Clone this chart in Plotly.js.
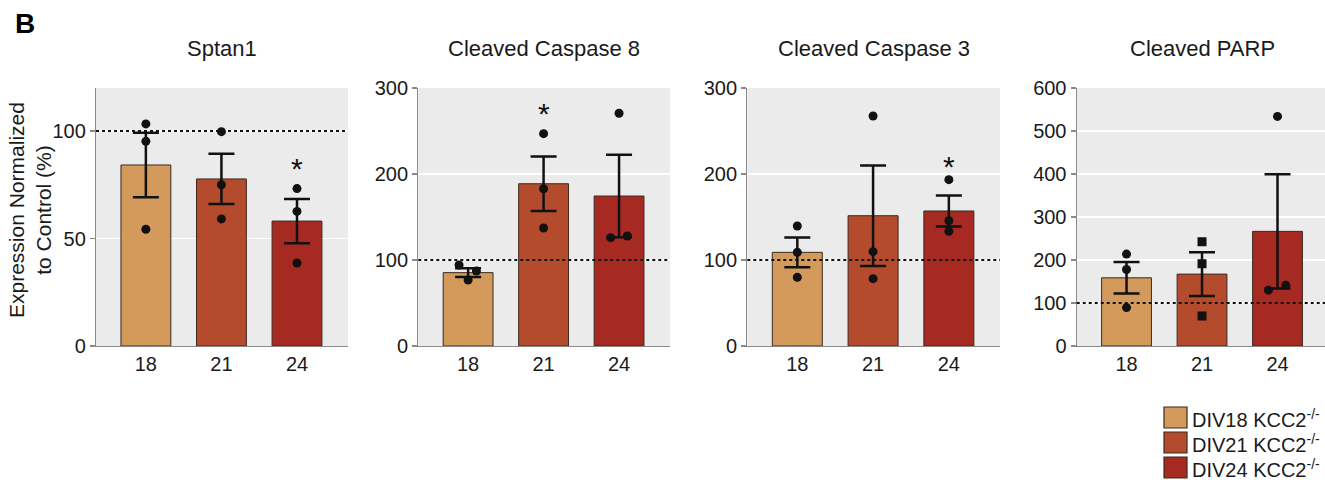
<!DOCTYPE html>
<html>
<head>
<meta charset="utf-8">
<script src="https://cdn.plot.ly/plotly-3.0.1.min.js"></script>
<style>
html,body{margin:0;padding:0;background:#fff;overflow:hidden;}
#chart{width:1325px;height:480px;}
</style>
</head>
<body>
<div id="chart"></div>
<script>
// ---- data ----
const categories = ['18', '21', '24'];
const legendLabels = ['DIV18 KCC2<sup>-/-</sup>', 'DIV21 KCC2<sup>-/-</sup>', 'DIV24 KCC2<sup>-/-</sup>'];
const panelTitles = ['Sptan1', 'Cleaved Caspase 8', 'Cleaved Caspase 3', 'Cleaved PARP'];

const sptan1Mean = [84.2, 77.7, 58.1];
const sptan1Sem = [15.0, 11.7, 10.3];
const sptan1Points = [[103.3, 95.2, 54.3], [99.7, 75.0, 59.1], [73.2, 62.6, 38.6]];
const sptan1Jitter = [[0, 0, 0], [0, 0, 0], [0, 0, 0]];

const casp8Mean = [85.3, 188.7, 174.4];
const casp8Sem = [5.2, 31.7, 48.0];
const casp8Points = [[94.2, 87.2, 76.7], [246.9, 182.9, 137.2], [270.6, 126.0, 127.9]];
const casp8Jitter = [[-0.12, 0.11, 0], [0, 0, 0], [0, -0.11, 0.11]];

const casp3Mean = [108.9, 151.5, 157.0];
const casp3Sem = [17.3, 58.5, 18.0];
const casp3Points = [[139.5, 108.9, 79.8], [267.4, 109.7, 78.3], [193.4, 145.7, 133.3]];
const casp3Jitter = [[0, 0, 0], [0, 0, 0], [0, 0, 0]];

const parpMean = [158.6, 167.2, 266.6];
const parpSem = [36.5, 51.0, 133.0];
const parpPoints = [[213.8, 178.0, 89.4], [242.5, 191.2, 70.0], [534.0, 129.8, 141.5]];
const parpJitter = [[0, 0, 0], [0, 0, 0], [0, -0.12, 0.11]];
const parpSymbols = ['circle', 'square', 'circle'];

const yRanges = [[0, 120], [0, 300], [0, 300], [0, 600]];
const yTicks = [[0, 50, 100], [0, 100, 200, 300], [0, 100, 200, 300], [0, 100, 200, 300, 400, 500, 600]];
const controlLevel = 100;

// significance markers: [panel index, category index, y value]
const sigPanel = [0, 1, 2];
const sigCat = [2, 1, 2];
const sigY = [84, 274, 212];

// ---- styling ----
const barColors = ['#D39A5C', '#B54B2D', '#A62922'];
const FONT = 'Liberation Sans, Arial, Helvetica, sans-serif';
const W = 1325, H = 480;
const px = v => v / W;
const py = v => 1 - v / H;

const xDomains = [[px(96), px(348)], [px(418.3), px(670)], [px(747.3), px(1000)], [px(1076.7), 1]];
const xRanges = [[-0.66, 2.675], [-0.66, 2.675], [-0.66, 2.675], [-0.66, 2.629]];
const yDomain = [py(346), py(88)];

const panels = [
  {mean: sptan1Mean, sem: sptan1Sem, pts: sptan1Points, jit: sptan1Jitter, sym: ['circle', 'circle', 'circle']},
  {mean: casp8Mean, sem: casp8Sem, pts: casp8Points, jit: casp8Jitter, sym: ['circle', 'circle', 'circle']},
  {mean: casp3Mean, sem: casp3Sem, pts: casp3Points, jit: casp3Jitter, sym: ['circle', 'circle', 'circle']},
  {mean: parpMean, sem: parpSem, pts: parpPoints, jit: parpJitter, sym: parpSymbols}
];

const traces = [];
const layout = {
  width: W, height: H,
  margin: {l: 0, r: 0, t: 0, b: 0},
  paper_bgcolor: '#ffffff',
  plot_bgcolor: '#EBEBEB',
  showlegend: false,
  font: {family: FONT, color: '#1a1a1a'},
  shapes: [],
  annotations: []
};

panels.forEach((p, i) => {
  const n = i === 0 ? '' : String(i + 1);
  const xa = 'x' + n, ya = 'y' + n;
  const xs = categories.map((c, k) => k);
  traces.push({
    type: 'bar', x: xs, y: p.mean, xaxis: xa, yaxis: ya, width: 0.66,
    marker: {color: barColors, line: {color: '#3a2a22', width: 1}},
    error_y: {type: 'data', array: p.sem, visible: true, color: '#111', thickness: 2.5, width: 13},
    hoverinfo: 'skip'
  });
  const px_ = [], py_ = [], sym = [];
  p.pts.forEach((grp, k) => grp.forEach((v, j) => {
    px_.push(k + p.jit[k][j]); py_.push(v); sym.push(p.sym[k]);
  }));
  traces.push({
    type: 'scatter', mode: 'markers', x: px_, y: py_, xaxis: xa, yaxis: ya,
    marker: {color: '#111', size: 9, symbol: sym, line: {width: 0}},
    hoverinfo: 'skip'
  });
  layout['xaxis' + n] = {
    domain: xDomains[i], anchor: ya, range: xRanges[i],
    tickvals: [0, 1, 2], ticktext: categories, ticks: '', showgrid: false, zeroline: false,
    showline: true, linecolor: '#8a8a8a', linewidth: 1.2,
    tickfont: {size: 20, family: FONT, color: '#1a1a1a'}, fixedrange: true
  };
  layout['yaxis' + n] = {
    domain: yDomain, anchor: xa, range: yRanges[i], tickvals: yTicks[i],
    ticks: 'outside', ticklen: 5, tickcolor: '#8a8a8a', tickwidth: 1.2,
    showline: true, linecolor: '#8a8a8a', linewidth: 1.2,
    showgrid: true, gridcolor: '#ffffff', gridwidth: 1.3, zeroline: false,
    tickfont: {size: 20, family: FONT, color: '#1a1a1a'}, fixedrange: true
  };
  layout.shapes.push({
    type: 'line', xref: xa + ' domain', yref: ya, x0: 0, x1: 1, y0: controlLevel, y1: controlLevel,
    line: {color: '#111', width: 2, dash: 'dot'}, layer: 'above'
  });
  layout.annotations.push({
    xref: 'paper', yref: 'paper', x: (xDomains[i][0] + (i === 3 ? px(1328.7) : xDomains[i][1])) / 2,
    y: py(49), xanchor: 'center', yanchor: 'middle', showarrow: false,
    text: panelTitles[i], font: {size: 22, family: FONT, color: '#1a1a1a'}
  });
});

sigPanel.forEach((pi, s) => {
  const n = pi === 0 ? '' : String(pi + 1);
  layout.annotations.push({
    xref: 'x' + n, yref: 'y' + n, x: sigCat[s], y: sigY[s], xanchor: 'center', yanchor: 'middle',
    yshift: -3, showarrow: false, text: '*', font: {size: 30, family: FONT, color: '#111'}
  });
});

// panel letter
layout.annotations.push({
  xref: 'paper', yref: 'paper', x: px(13), y: py(23), xanchor: 'left', yanchor: 'middle',
  showarrow: false, text: '<b>B</b>', font: {size: 28, family: FONT, color: '#000'}
});
// y axis title
layout.annotations.push({
  xref: 'paper', yref: 'paper', x: px(30), y: py(210), xanchor: 'center', yanchor: 'middle',
  showarrow: false, textangle: -90, text: 'Expression Normalized<br>to Control (%)',
  font: {size: 21, family: FONT, color: '#1a1a1a'}
});
// legend
legendLabels.forEach((lab, k) => {
  const top = 407 + k * 25;
  layout.shapes.push({
    type: 'rect', xref: 'paper', yref: 'paper', x0: px(1164), x1: px(1187), y0: py(top + 21), y1: py(top),
    fillcolor: barColors[k], line: {color: '#3a2a22', width: 1.2}, layer: 'above'
  });
  layout.annotations.push({
    xref: 'paper', yref: 'paper', x: px(1190), y: py(top + 11), xanchor: 'left', yanchor: 'middle',
    showarrow: false, text: lab, font: {size: 20, family: FONT, color: '#1a1a1a'}
  });
});

Plotly.newPlot('chart', traces, layout, {displayModeBar: false, staticPlot: true});
</script>
</body>
</html>
